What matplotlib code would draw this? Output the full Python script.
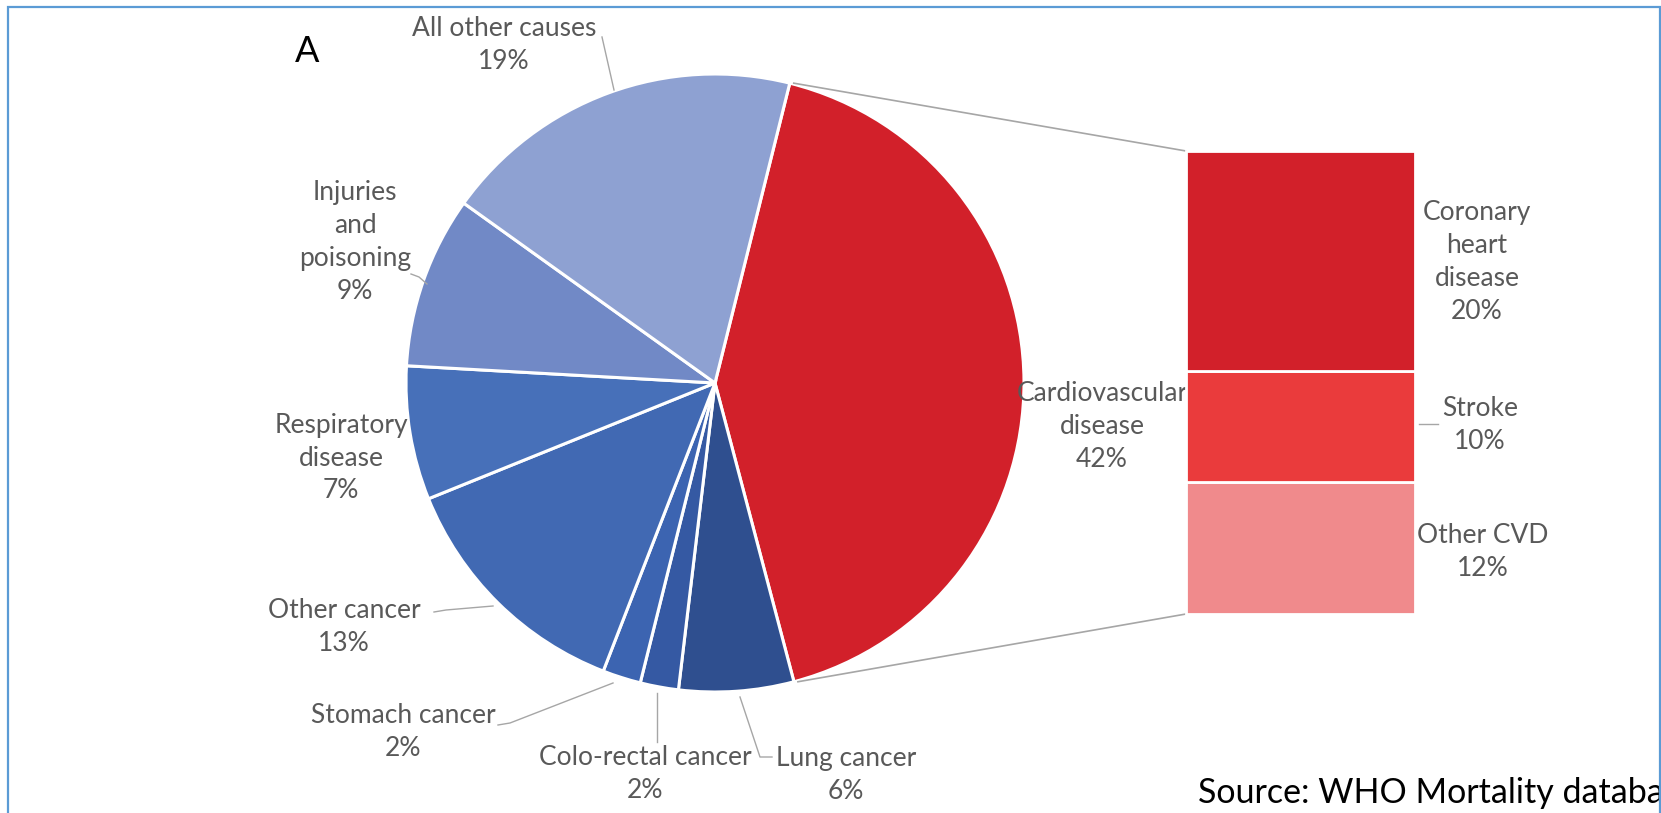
import numpy as np
import matplotlib
matplotlib.use("Agg")
import matplotlib.pyplot as plt
from matplotlib.patches import Rectangle

plt.rcParams['font.family'] = ['Lato', 'DejaVu Sans']

# Causes of death, clockwise from the cardiovascular wedge
causes = ["Cardiovascular\ndisease", "Lung cancer", "Colo-rectal cancer", "Stomach cancer",
          "Other cancer", "Respiratory\ndisease", "Injuries\nand\npoisoning", "All other causes"]
shares = [42, 6, 2, 2, 13, 7, 9, 19]
pie_colors = ["#D2202A", "#2F4F8F", "#3559A3", "#3C64B1", "#4169B3", "#4770B9", "#7189C6", "#8EA1D2"]

# Breakdown of cardiovascular disease (top to bottom)
cvd_parts = ["Coronary\nheart\ndisease", "Stroke", "Other CVD"]
cvd_shares = [20, 10, 12]
cvd_colors = ["#D2202A", "#EA3B3C", "#F08A8C"]

W, H = 1661, 813
fig = plt.figure(figsize=(W / 100, H / 100), dpi=100)
ax = fig.add_axes([0, 0, 1, 1])

def Y(y):
    return H - y

# Pie
cx, cy, r = 715, Y(383), 309
start = 76
ax.pie(shares, colors=pie_colors, startangle=start, counterclock=False,
       center=(cx, cy), radius=r, frame=True,
       wedgeprops=dict(edgecolor='white', linewidth=2.2))
ax.set_xlim(0, W)
ax.set_ylim(0, H)
ax.set_aspect('equal')
ax.axis('off')

# Stacked bar for the cardiovascular breakdown
bar_x0, bar_x1 = 1186, 1415
bar_bottom = Y(614)
scale = (614 - 151) / sum(cvd_shares)
bottom = bar_bottom
for name, v, c in reversed(list(zip(cvd_parts, cvd_shares, cvd_colors))):
    ax.bar((bar_x0 + bar_x1) / 2, v * scale, bottom=bottom, width=bar_x1 - bar_x0,
           color=c, edgecolor='white', linewidth=2.0, zorder=3)
    bottom += v * scale
bar_top = bottom

# Connector lines from the cardiovascular wedge to the bar
a0 = np.deg2rad(start)
a1 = np.deg2rad(start - shares[0] * 3.6)
p0 = (cx + r * np.cos(a0), cy + r * np.sin(a0))
p1 = (cx + r * np.cos(a1), cy + r * np.sin(a1))
line_kw = dict(color='#A6A6A6', linewidth=1.2, zorder=2)
ax.plot([p0[0] + 4, bar_x0], [p0[1], bar_top], **line_kw)
ax.plot([p1[0] + 4, bar_x0], [p1[1], bar_bottom], **line_kw)

# Labels
label_kw = dict(color='#595959', fontsize=19, ha='center', va='center', linespacing=1.4)
pie_label_pos = [(1102, 427), (846, 775), (645, 774), (403, 732),
                 (344, 627), (341, 458), (355, 242), (504, 45)]
for name, v, (x, y) in zip(causes, shares, pie_label_pos):
    z = 1 if name.startswith("Cardio") else 5
    ax.text(x, Y(y), f"{name}\n{v}%", zorder=z, **label_kw)

bar_label_pos = [(1477, 262), (1480, 425), (1483, 552)]
for name, v, (x, y) in zip(cvd_parts, cvd_shares, bar_label_pos):
    ax.text(x, Y(y), f"{name}\n{v}%", zorder=5, **label_kw)

# Leader lines
leader_kw = dict(color='#A6A6A6', linewidth=1.0, zorder=4)
leaders = [
    [(602, 37), (614, 90)],
    [(411, 274), (419, 277), (427, 284)],
    [(434, 612), (446, 610), (493, 606)],
    [(498, 725), (510, 723), (613, 683)],
    [(657, 742), (657, 693)],
    [(740, 697), (760, 757), (772, 757)],
    [(1419, 424), (1438, 424)],
]
for pts in leaders:
    xs, ys = zip(*pts)
    ax.plot(xs, [Y(v) for v in ys], **leader_kw)

# Panel letter and source note
ax.text(307, Y(51), "A", fontsize=26, color='black', ha='center', va='center')
ax.text(1198, Y(803), "Source: WHO Mortality database", fontsize=24.5, color='black',
        ha='left', va='baseline', zorder=6)

# Frame around the panel
ax.add_patch(Rectangle((8, Y(840)), 1652, 833, fill=False, edgecolor='#5B9BD5',
                       linewidth=1.6, zorder=7, clip_on=False))

fig.savefig("out.png", dpi=100)
